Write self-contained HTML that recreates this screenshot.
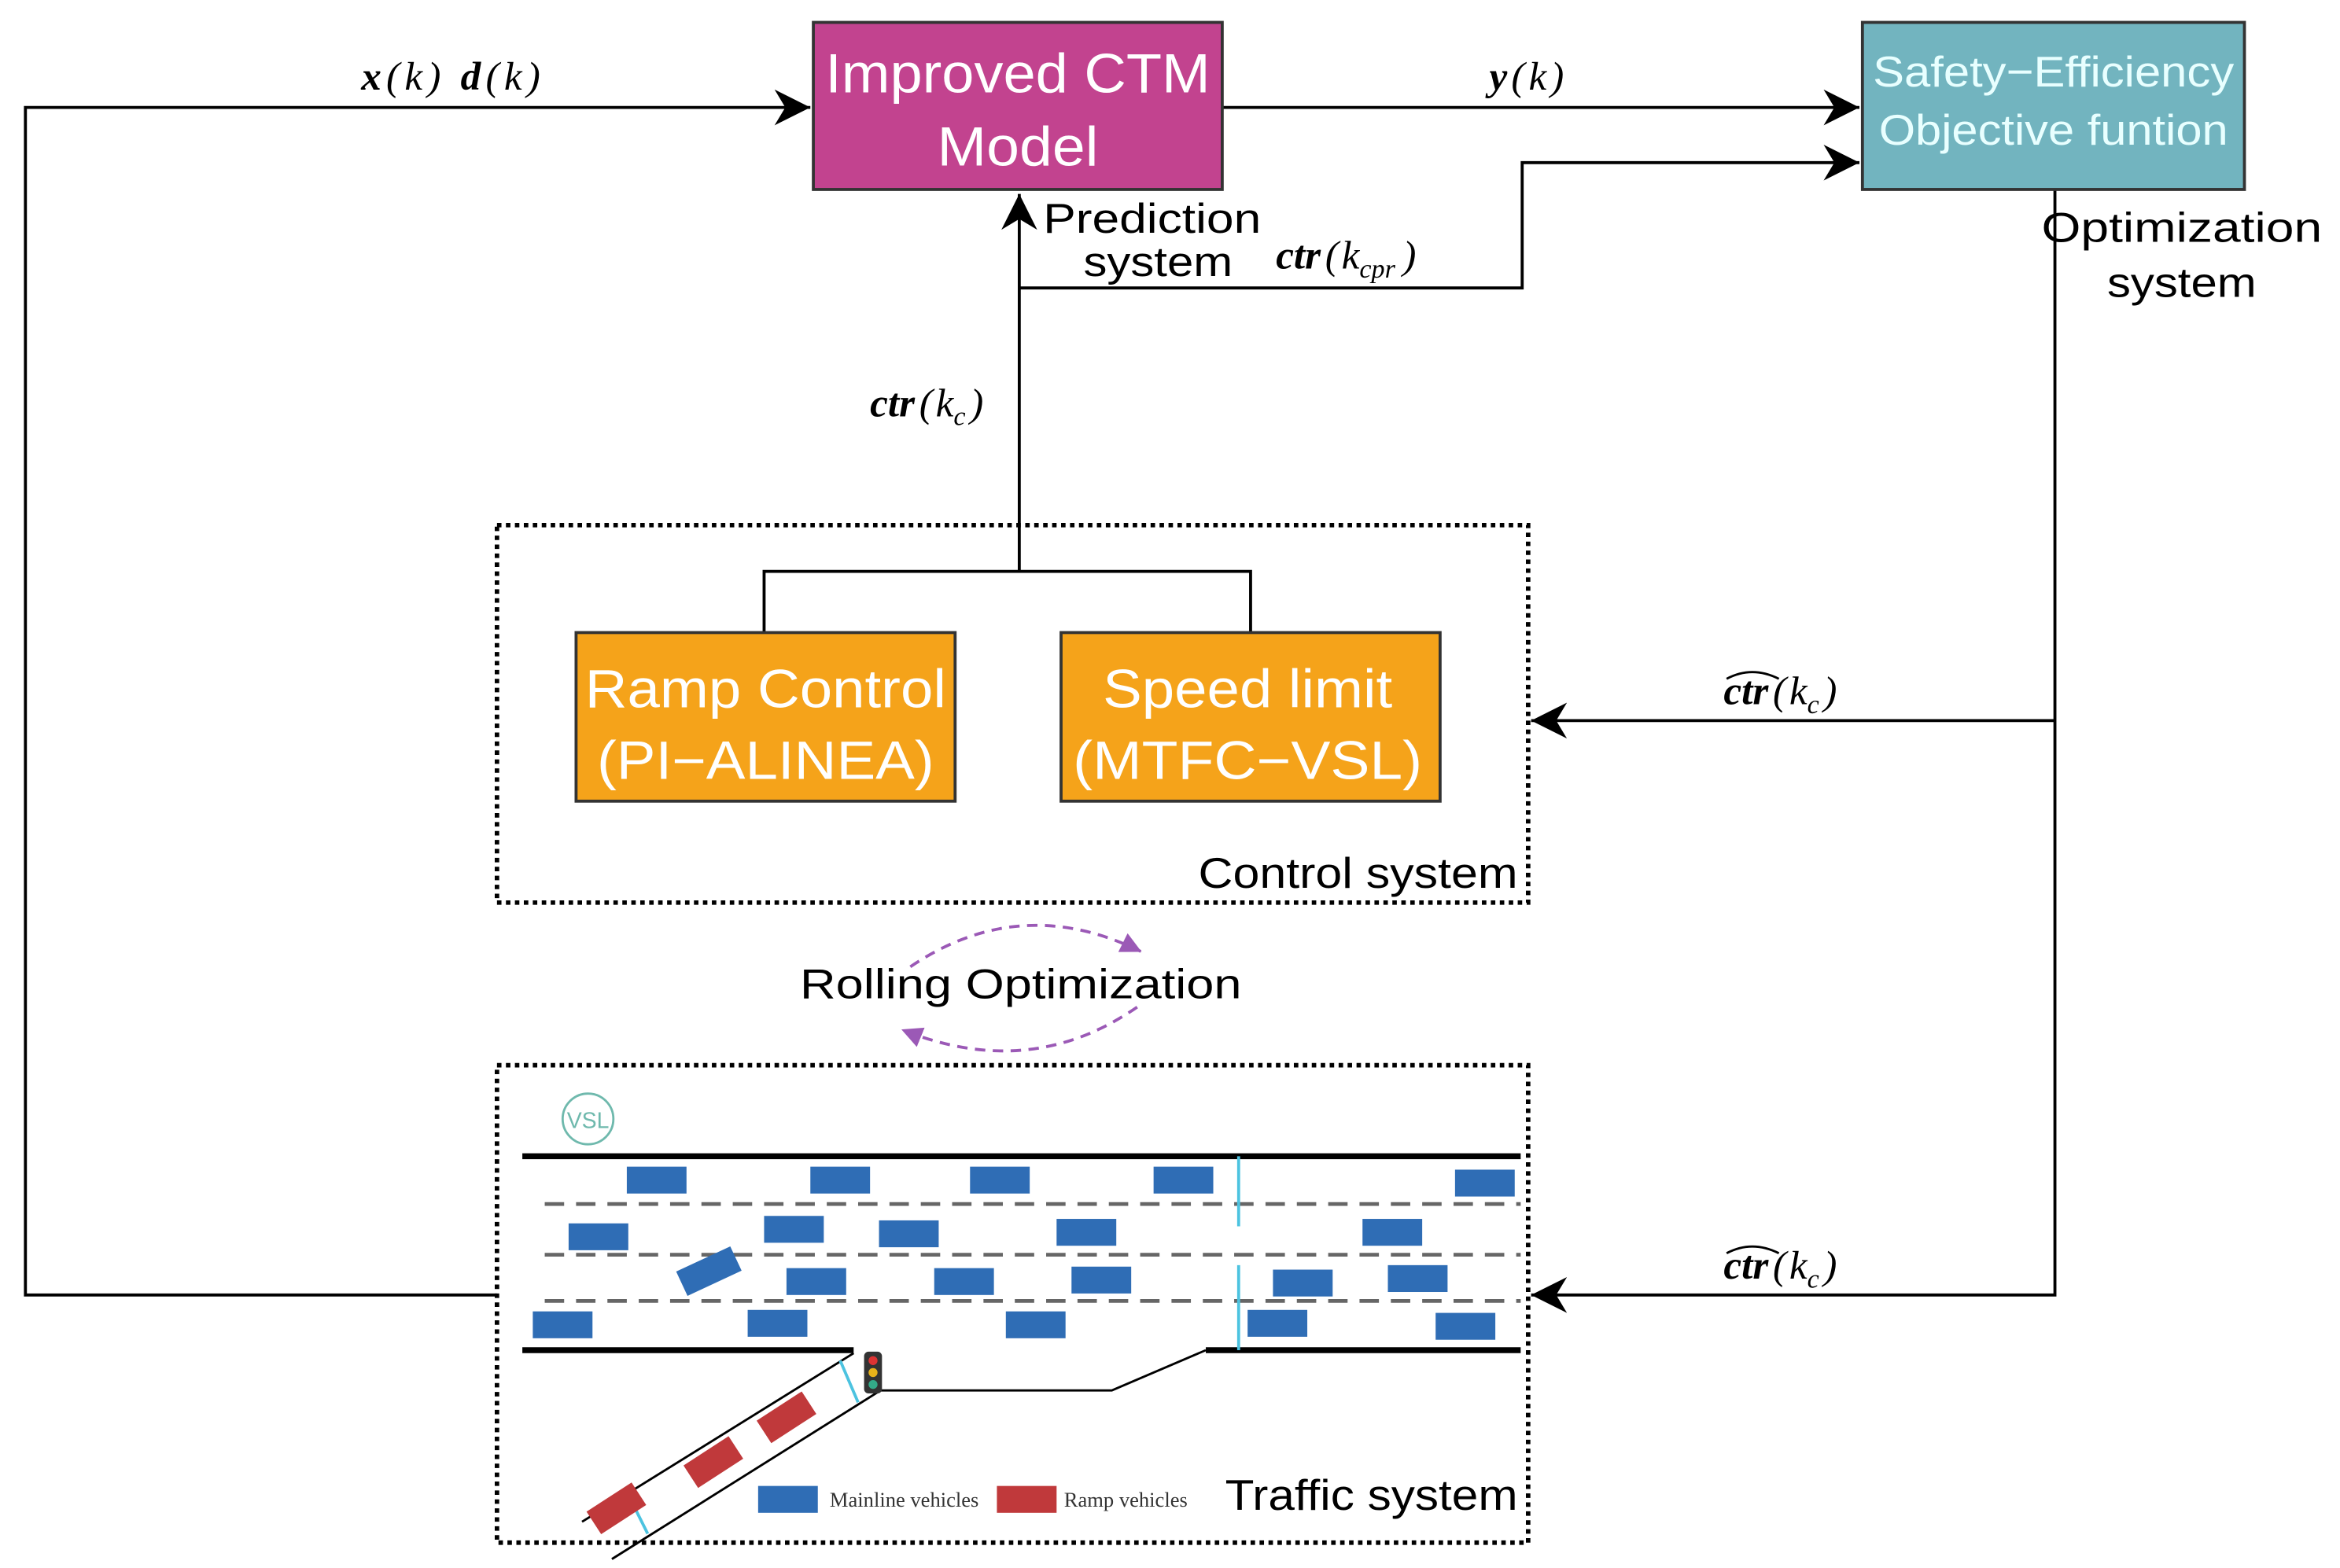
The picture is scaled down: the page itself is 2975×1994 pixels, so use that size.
<!DOCTYPE html>
<html><head><meta charset="utf-8"><style>
html,body{margin:0;padding:0;background:#fff;}
svg{display:block;}
.m{font-family:"Liberation Serif",serif;font-weight:bold;font-style:italic;}
.mr{font-family:"Liberation Serif",serif;font-style:italic;font-weight:normal;}
.s{font-family:"Liberation Sans",sans-serif;}
</style></head><body>
<svg width="2975" height="1994" viewBox="0 0 1568 1051" xmlns="http://www.w3.org/2000/svg">
<defs>
<marker id="ab" viewBox="0 0 10 10" refX="10" refY="5" markerWidth="24" markerHeight="24" markerUnits="userSpaceOnUse" orient="auto"><path d="M0,0 L10,5 L0,10 L3,5z" fill="#000"/></marker>
<marker id="ap" viewBox="0 0 10 10" refX="10" refY="5" markerWidth="14" markerHeight="14" markerUnits="userSpaceOnUse" orient="auto"><path d="M0,0 L10,5 L0,10z" fill="#9b59b6"/></marker>
</defs>
<g fill="none" stroke="#000" stroke-width="2">
<polyline points="333,868 17,868 17,72 543,72" marker-end="url(#ab)"/>
<line x1="819" y1="72" x2="1246" y2="72" marker-end="url(#ab)"/>
<polyline points="683,193 1020,193 1020,109 1246,109" marker-end="url(#ab)"/>
<line x1="683" y1="383" x2="683" y2="130" marker-end="url(#ab)"/>
<polyline points="512,424 512,383 838,383 838,424"/>
<polyline points="1377,127 1377,868 1026,868" marker-end="url(#ab)"/>
<line x1="1377" y1="483" x2="1026" y2="483" marker-end="url(#ab)"/>
</g>
<rect x="545" y="15" width="274" height="112" fill="#c2438f" stroke="#333" stroke-width="2"/>
<text x="682" y="62" class="s" font-size="37" fill="#fff" text-anchor="middle" textLength="258" lengthAdjust="spacingAndGlyphs">Improved CTM</text>
<text x="682" y="111" class="s" font-size="37" fill="#fff" text-anchor="middle" textLength="108" lengthAdjust="spacingAndGlyphs">Model</text>
<rect x="1248" y="15" width="256" height="112" fill="#72b4bf" stroke="#333" stroke-width="2"/>
<text x="1376" y="58" class="s" font-size="29" fill="#e8ffff" text-anchor="middle" textLength="242" lengthAdjust="spacingAndGlyphs">Safety−Efficiency</text>
<text x="1376" y="97" class="s" font-size="29" fill="#e8ffff" text-anchor="middle" textLength="234" lengthAdjust="spacingAndGlyphs">Objective funtion</text>
<text x="242" y="60" class="m" font-size="27" textLength="120" lengthAdjust="spacing">x<tspan class="mr">(k)</tspan> d<tspan class="mr">(k)</tspan></text>
<text x="998" y="60" class="m" font-size="27" textLength="50" lengthAdjust="spacing">y<tspan class="mr">(k)</tspan></text>
<text x="855" y="180" class="m" font-size="27">ctr<tspan class="mr" dx="3">(</tspan><tspan class="mr" dx="2">k</tspan><tspan class="mr" font-size="18" dy="6">cpr</tspan><tspan class="mr" dx="5" dy="-6">)</tspan></text>
<text x="583" y="279" class="m" font-size="27">ctr<tspan class="mr" dx="3">(</tspan><tspan class="mr" dx="2">k</tspan><tspan class="mr" font-size="18" dy="6">c</tspan><tspan class="mr" dx="3" dy="-6">)</tspan></text>
<text x="1155" y="472" class="m" font-size="27">ctr<tspan class="mr" dx="3">(</tspan><tspan class="mr" dx="2">k</tspan><tspan class="mr" font-size="18" dy="6">c</tspan><tspan class="mr" dx="3" dy="-6">)</tspan></text>
<path d="M1157,455 Q1174,446 1192,455" fill="none" stroke="#000" stroke-width="1.5"/>
<text x="1155" y="857" class="m" font-size="27">ctr<tspan class="mr" dx="3">(</tspan><tspan class="mr" dx="2">k</tspan><tspan class="mr" font-size="18" dy="6">c</tspan><tspan class="mr" dx="3" dy="-6">)</tspan></text>
<path d="M1157,840 Q1174,831 1192,840" fill="none" stroke="#000" stroke-width="1.5"/>
<text x="772" y="156" class="s" font-size="28" text-anchor="middle" textLength="146" lengthAdjust="spacingAndGlyphs">Prediction</text>
<text x="776" y="185" class="s" font-size="28" text-anchor="middle" textLength="100" lengthAdjust="spacingAndGlyphs">system</text>
<text x="1462" y="162" class="s" font-size="28" text-anchor="middle" textLength="188" lengthAdjust="spacingAndGlyphs">Optimization</text>
<text x="1462" y="199" class="s" font-size="28" text-anchor="middle" textLength="100" lengthAdjust="spacingAndGlyphs">system</text>
<rect x="333" y="352" width="691" height="253" fill="none" stroke="#000" stroke-width="3" stroke-dasharray="3,3"/>
<rect x="386" y="424" width="254" height="113" fill="#f5a31a" stroke="#333" stroke-width="2"/>
<text x="513" y="474" class="s" font-size="36" fill="#fff" text-anchor="middle" textLength="242" lengthAdjust="spacingAndGlyphs">Ramp Control</text>
<text x="513" y="522" class="s" font-size="36" fill="#fff" text-anchor="middle" textLength="226" lengthAdjust="spacingAndGlyphs">(PI−ALINEA)</text>
<rect x="711" y="424" width="254" height="113" fill="#f5a31a" stroke="#333" stroke-width="2"/>
<text x="836" y="474" class="s" font-size="36" fill="#fff" text-anchor="middle" textLength="194" lengthAdjust="spacingAndGlyphs">Speed limit</text>
<text x="836" y="522" class="s" font-size="36" fill="#fff" text-anchor="middle" textLength="234" lengthAdjust="spacingAndGlyphs">(MTFC−VSL)</text>
<text x="1017" y="595" class="s" font-size="29" text-anchor="end" textLength="214" lengthAdjust="spacingAndGlyphs">Control system</text>
<path d="M610,648 Q684,598 765,638" fill="none" stroke="#9b59b6" stroke-width="2" stroke-dasharray="7,5" marker-end="url(#ap)"/>
<path d="M762,675 Q690,725 604,690" fill="none" stroke="#9b59b6" stroke-width="2" stroke-dasharray="7,5" marker-end="url(#ap)"/>
<text x="684" y="669" class="s" font-size="28" text-anchor="middle" textLength="296" lengthAdjust="spacingAndGlyphs">Rolling Optimization</text>
<rect x="333" y="714" width="691" height="320" fill="none" stroke="#000" stroke-width="3" stroke-dasharray="3,3"/>
<circle cx="394" cy="750" r="17" fill="none" stroke="#6fb9ad" stroke-width="1.5"/>
<text x="394" y="756" class="s" font-size="15" fill="#6fb9ad" text-anchor="middle">VSL</text>
<g stroke="#000">
<line x1="350" y1="775" x2="1019" y2="775" stroke-width="4"/>
<line x1="350" y1="905" x2="572" y2="905" stroke-width="4"/>
<line x1="808" y1="905" x2="1019" y2="905" stroke-width="4"/>
<g stroke="#666" stroke-width="2.5" stroke-dasharray="13,8">
<line x1="365" y1="807" x2="1019" y2="807"/>
<line x1="365" y1="841" x2="1019" y2="841"/>
<line x1="365" y1="872" x2="1019" y2="872"/>
</g>
<polyline points="590,932 745,932 808,905" fill="none" stroke-width="1.5"/>
<line x1="572" y1="907" x2="390" y2="1020" stroke-width="1.5"/>
<line x1="590" y1="932" x2="410" y2="1045" stroke-width="1.5"/>
</g>
<g stroke="#4cc3e0" stroke-width="2">
<line x1="830" y1="775" x2="830" y2="822"/><line x1="830" y1="848" x2="830" y2="905"/>
<line x1="563" y1="912" x2="575" y2="940"/><line x1="420" y1="1000" x2="434" y2="1028"/>
</g>
<g fill="#2f6db5">
<rect x="420" y="782" width="40" height="18"/><rect x="543" y="782" width="40" height="18"/><rect x="650" y="782" width="40" height="18"/><rect x="773" y="782" width="40" height="18"/><rect x="975" y="784" width="40" height="18"/>
<rect x="381" y="820" width="40" height="18"/><rect x="512" y="815" width="40" height="18"/><rect x="589" y="818" width="40" height="18"/><rect x="708" y="817" width="40" height="18"/><rect x="913" y="817" width="40" height="18"/>
<rect x="455" y="843" width="40" height="18" transform="rotate(-25 475 852)"/><rect x="527" y="850" width="40" height="18"/><rect x="626" y="850" width="40" height="18"/><rect x="718" y="849" width="40" height="18"/><rect x="853" y="851" width="40" height="18"/><rect x="930" y="848" width="40" height="18"/>
<rect x="357" y="879" width="40" height="18"/><rect x="501" y="878" width="40" height="18"/><rect x="674" y="879" width="40" height="18"/><rect x="836" y="878" width="40" height="18"/><rect x="962" y="880" width="40" height="18"/>
<rect x="508" y="996" width="40" height="18"/>
</g>
<g fill="#c0393b">
<rect x="395" y="1002" width="36" height="18" transform="rotate(-33 413 1011)"/>
<rect x="460" y="971" width="36" height="18" transform="rotate(-33 478 980)"/>
<rect x="509" y="941" width="36" height="18" transform="rotate(-33 527 950)"/>
<rect x="668" y="996" width="40" height="18"/>
</g>
<rect x="579" y="906" width="12" height="28" rx="3" fill="#333"/>
<circle cx="585" cy="912" r="3" fill="#d33"/><circle cx="585" cy="920" r="3" fill="#e7b21a"/><circle cx="585" cy="928" r="3" fill="#3a8"/>
<text x="556" y="1010" font-family="Liberation Serif,serif" font-size="14" fill="#333">Mainline vehicles</text>
<text x="713" y="1010" font-family="Liberation Serif,serif" font-size="14" fill="#333">Ramp vehicles</text>
<text x="1017" y="1012" class="s" font-size="29" text-anchor="end" textLength="196" lengthAdjust="spacingAndGlyphs">Traffic system</text>
</svg>
</body></html>
